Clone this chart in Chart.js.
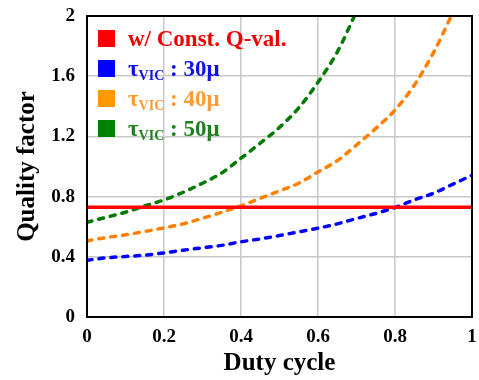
<!DOCTYPE html>
<html>
<head>
<meta charset="utf-8">
<script src="https://cdn.jsdelivr.net/npm/chart.js@4"></script>
<style>
html, body { margin: 0; padding: 0; background: #fff; }
</style>
</head>
<body>
<canvas id="qChart" width="479" height="380"></canvas>
<script>
// duty cycle samples (x)
var duty = [0, 0.05, 0.1, 0.15, 0.2, 0.25, 0.3, 0.35, 0.4, 0.45, 0.5,
            0.55, 0.6, 0.65, 0.7, 0.75, 0.8, 0.85, 0.9, 0.95, 1];
var constQ = [0.73, 0.73];
var constX = [0, 1];
var tau30 = [0.377, 0.393, 0.402, 0.411, 0.426, 0.444, 0.460, 0.476, 0.500, 0.519, 0.541,
             0.566, 0.590, 0.619, 0.654, 0.688, 0.727, 0.778, 0.822, 0.882, 0.942];
var tau40 = [0.505, 0.528, 0.546, 0.568, 0.592, 0.619, 0.656, 0.696, 0.738, 0.789, 0.838,
             0.889, 0.964, 1.039, 1.143, 1.253, 1.375, 1.540, 1.757, 2.02, null];
var tau50 = [0.630, 0.663, 0.696, 0.738, 0.778, 0.829, 0.889, 0.957, 1.055, 1.155, 1.26,
             1.39, 1.56, 1.76, 2.03, null, null, null, null, null, null];
var xTicks = [0, 0.2, 0.4, 0.6, 0.8, 1];
var yTicks = [0, 0.4, 0.8, 1.2, 1.6, 2];
var legendLabels = ['w/ Const. Q-val.', ' : 30\u03bc', ' : 40\u03bc', ' : 50\u03bc'];
var legendSwatch = ['#ff0000', '#0000ff', '#ff9900', '#008000'];
var legendText = ['#ee0000', '#1010e8', '#ff9a33', '#1e801e'];

var serif = "'Liberation Serif', 'Times New Roman', serif";

function pairs(ys) {
    var out = [];
    for (var i = 0; i < duty.length; i++) {
        if (ys[i] !== null) out.push({ x: duty[i], y: ys[i] });
    }
    return out;
}

function dashed(label, ys, color) {
    return {
        label: label,
        data: pairs(ys),
        borderColor: color,
        borderWidth: 3.5,
        borderDash: [5, 7],
        borderCapStyle: 'round',
        cubicInterpolationMode: 'monotone',
        pointRadius: 0,
        clip: 0
    };
}

var framePlugin = {
    id: 'frame',
    afterDatasetsDraw: function(chart) {
        var a = chart.chartArea, ctx = chart.ctx;
        ctx.save();
        ctx.strokeStyle = '#000';
        ctx.lineWidth = 2;
        ctx.strokeRect(a.left, a.top, a.right - a.left, a.bottom - a.top);
        ctx.restore();
    }
};

// legend drawn by hand because of the subscripts
var legendPlugin = {
    id: 'qLegend',
    afterDraw: function(chart) {
        var ctx = chart.ctx, a = chart.chartArea;
        var x0 = a.left + 11, y0 = a.top + 14;
        ctx.save();
        ctx.textBaseline = 'alphabetic';
        for (var i = 0; i < legendLabels.length; i++) {
            var top = y0 + i * 30;
            ctx.fillStyle = legendSwatch[i];
            ctx.fillRect(x0, top, 17, 17);
            ctx.fillStyle = legendText[i];
            var tx = x0 + 30, base = top + 15.5;
            if (i === 0) {
                ctx.font = 'bold 23px ' + serif;
                ctx.fillText(legendLabels[i], tx, base);
            } else {
                ctx.font = 'bold 23px ' + serif;
                ctx.fillText('\u03c4', tx, base);
                tx += ctx.measureText('\u03c4').width;
                ctx.font = 'bold 14px ' + serif;
                ctx.fillText('VIC', tx, base + 4);
                tx += ctx.measureText('VIC').width;
                ctx.font = 'bold 23px ' + serif;
                ctx.fillText(legendLabels[i], tx, base);
            }
        }
        ctx.restore();
    }
};

var tickFont = { family: serif, size: 19, weight: 'bold' };
var gridOpts = { color: '#c8c8c8', lineWidth: 1.5, drawTicks: false };

new Chart(document.getElementById('qChart').getContext('2d'), {
    type: 'line',
    data: {
        datasets: [
            {
                label: legendLabels[0],
                data: [{ x: constX[0], y: constQ[0] }, { x: constX[1], y: constQ[1] }],
                borderColor: '#ff0000',
                borderWidth: 3.5,
                pointRadius: 0,
                clip: 0
            },
            dashed('30', tau30, '#0000ff'),
            dashed('40', tau40, '#ff8000'),
            dashed('50', tau50, '#007a00')
        ]
    },
    options: {
        responsive: false,
        animation: false,
        layout: { padding: 0 },
        scales: {
            x: {
                type: 'linear',
                min: 0,
                max: 1,
                afterBuildTicks: function(s) { s.ticks = xTicks.map(function(v) { return { value: v }; }); },
                afterFit: function(s) {
                    s.height = 63;
                    s.paddingLeft = 0;
                    s.paddingRight = 7;
                },
                ticks: {
                    font: tickFont,
                    color: '#000',
                    padding: 9,
                    callback: function(v) { return String(+v.toFixed(1)); }
                },
                grid: gridOpts,
                border: { display: false },
                title: {
                    display: true,
                    text: 'Duty cycle',
                    color: '#000',
                    font: { family: serif, size: 25, weight: 'bold', lineHeight: 1.2 },
                    padding: { top: 0, bottom: 1 }
                }
            },
            y: {
                min: 0,
                max: 2,
                afterBuildTicks: function(s) { s.ticks = yTicks.map(function(v) { return { value: v }; }); },
                afterFit: function(s) {
                    s.width = 87;
                    s.paddingTop = 16;
                    s.paddingBottom = 0;
                },
                ticks: {
                    font: tickFont,
                    color: '#000',
                    padding: 12,
                    callback: function(v) { return String(+v.toFixed(1)); }
                },
                grid: gridOpts,
                border: { display: false },
                title: {
                    display: true,
                    text: 'Quality factor',
                    color: '#000',
                    font: { family: serif, size: 25, weight: 'bold', lineHeight: 1.2 },
                    padding: { top: 13, bottom: 0 }
                }
            }
        },
        plugins: {
            legend: { display: false },
            tooltip: { enabled: false }
        }
    },
    plugins: [framePlugin, legendPlugin]
});
</script>
</body>
</html>
